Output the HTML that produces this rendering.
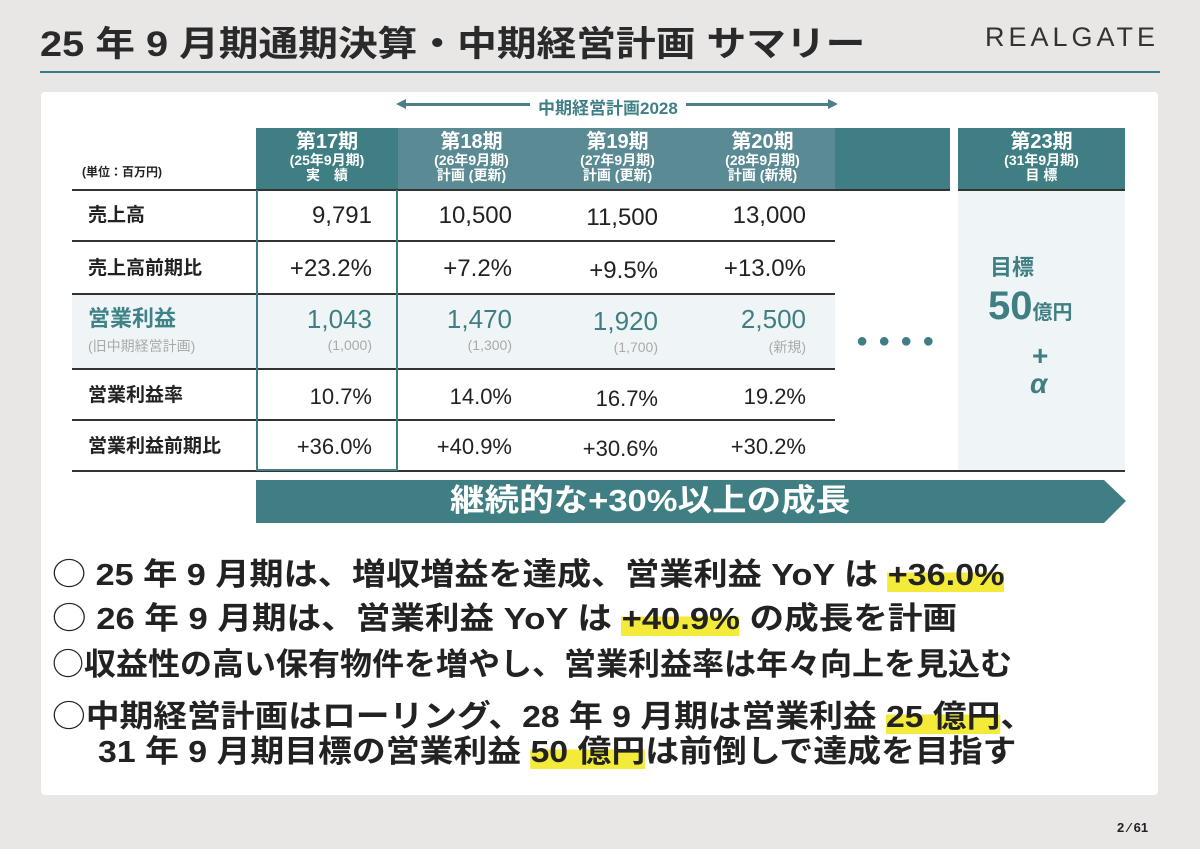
<!DOCTYPE html>
<html><head><meta charset="utf-8">
<style>
*{margin:0;padding:0;box-sizing:border-box}
body{width:1200px;height:849px;background:#e9e6e6;position:relative;overflow:hidden;font-family:"Liberation Sans","Noto Sans CJK JP",sans-serif;color:#222}
.abs{position:absolute}
.fit{position:absolute;white-space:nowrap;transform-origin:left center;font-weight:bold}
.hd{position:absolute;top:128px;height:62px;color:#fff;text-align:center;font-weight:bold}
.hd .a{font-size:20px;line-height:22px;margin-top:3px}
.hd .b{font-size:14px;line-height:15px}
.hl{position:absolute;left:72px;width:763px;height:2px;background:#333}
.lab{position:absolute;left:88px;font-size:19px;font-weight:bold;line-height:24px}
.v{position:absolute;font-size:24px;line-height:26px;text-align:right;width:130px}
.g{color:#3f7f83}
.s{position:absolute;font-size:14px;color:#aaa;text-align:right;width:130px}
.bl{position:absolute;font-size:31px;line-height:36px}
.c{font-family:"Noto Sans CJK JP",sans-serif;font-weight:normal}
.y{background:linear-gradient(transparent 45%,#f3ea3a 45%)}
</style></head><body>
<div class="fit" data-w="825" style="left:40px;top:16px;font-size:35px;color:#2a2a2a">25 年 9 月期通期決算・中期経営計画 サマリー</div>
<div class="abs" style="left:985px;top:22px;font-size:27px;letter-spacing:4px;color:#333">REALGATE</div>
<div class="abs" style="left:40px;top:71px;width:1120px;height:2px;background:#3d7b80"></div>
<div class="abs" style="left:41px;top:92px;width:1117px;height:703px;background:#fff;border-radius:4px"></div>

<div class="abs" style="left:400px;top:103px;width:432px;height:3px;background:#4c7f88"></div>
<div class="abs" style="left:396px;top:99px;border-right:10px solid #4c7f88;border-top:5px solid transparent;border-bottom:5px solid transparent"></div>
<div class="abs" style="left:828px;top:99px;border-left:10px solid #4c7f88;border-top:5px solid transparent;border-bottom:5px solid transparent"></div>
<div class="abs" style="left:530px;top:94px;padding:0 8px;background:#fff;color:#3f7f86;font-size:17px;font-weight:bold">中期経営計画2028</div>

<div class="abs" style="left:82px;top:163px;font-size:12px;font-weight:bold">(単位：百万円)</div>
<div class="abs" style="left:958px;top:190px;width:167px;height:281px;background:#eff5f6"></div>
<div class="abs" style="left:72px;top:295px;width:763px;height:74px;background:#eff5f6"></div>

<div class="hd" style="left:256px;width:142px;background:#3f7f83"><div class="a">第17期</div><div class="b">(25年9月期)</div><div class="b">実　績</div></div>
<div class="hd" style="left:398px;width:147px;background:#5a8a93"><div class="a">第18期</div><div class="b">(26年9月期)</div><div class="b">計画 (更新)</div></div>
<div class="hd" style="left:545px;width:145px;background:#5a8a93"><div class="a">第19期</div><div class="b">(27年9月期)</div><div class="b">計画 (更新)</div></div>
<div class="hd" style="left:690px;width:145px;background:#5a8a93"><div class="a">第20期</div><div class="b">(28年9月期)</div><div class="b">計画 (新規)</div></div>
<div class="hd" style="left:835px;width:115px;background:#3f7f83"></div>
<div class="hd" style="left:958px;width:167px;background:#3f7f83"><div class="a">第23期</div><div class="b">(31年9月期)</div><div class="b">目 標</div></div>
<div class="abs" style="left:72px;top:189px;width:878px;height:2px;background:#333"></div>
<div class="abs" style="left:958px;top:189px;width:167px;height:2px;background:#333"></div>

<div class="hl" style="top:240px"></div>
<div class="hl" style="top:293px"></div>
<div class="hl" style="top:368px"></div>
<div class="hl" style="top:419px"></div>
<div class="abs" style="left:72px;top:470px;width:1053px;height:2px;background:#333"></div>
<div class="abs" style="left:256px;top:190px;width:142px;height:281px;border:2px solid #3f7f83;border-top:none"></div>

<div class="lab" style="top:204px">売上高</div>
<div class="lab" style="top:257px">売上高前期比</div>
<div class="lab g" style="top:307px;font-size:22px;color:#3f8288">営業利益</div>
<div class="abs" style="left:88px;top:336px;font-size:14px;color:#aaa">(旧中期経営計画)</div>
<div class="lab" style="top:384px">営業利益率</div>
<div class="lab" style="top:435px">営業利益前期比</div>

<div id="vals"></div>

<div class="abs" style="left:856px;top:331px;font-size:20px;color:#3f7f83;letter-spacing:10px;line-height:20px">●●●●</div>
<div class="abs" style="left:990px;top:250px;font-size:22px;font-weight:bold;color:#3f7f83">目標</div>
<div class="abs" style="left:988px;top:284px;font-size:40px;font-weight:bold;color:#3f7f83;line-height:44px">50<span style="font-size:20px">億円</span></div>
<div class="abs" style="left:1032px;top:340px;font-size:28px;font-weight:bold;color:#3f7f83">+</div>
<div class="abs" style="left:1030px;top:368px;font-size:28px;font-weight:bold;color:#3f7f83;font-style:italic">α</div>

<svg class="abs" style="left:256px;top:480px" width="872" height="44"><polygon points="0,0 848,0 870,21 848,43 0,43" fill="#3f7f83"/></svg>
<div class="fit" data-w="400" style="left:450px;top:481px;font-size:31px;color:#fff;line-height:40px">継続的な+30%以上の成長</div>

<div class="fit bl" data-w="952" style="left:52px;top:554px"><span class="c">○</span> 25 年 9 月期は、増収増益を達成、営業利益 YoY は <span class="y">+36.0%</span></div>
<div class="fit bl" data-w="905" style="left:52px;top:598px"><span class="c">○</span> 26 年 9 月期は、営業利益 YoY は <span class="y">+40.9%</span> の成長を計画</div>
<div class="fit bl" data-w="960" style="left:52px;top:644px"><span class="c">○</span>収益性の高い保有物件を増やし、営業利益率は年々向上を見込む</div>
<div class="fit bl" data-w="982" style="left:52px;top:696px"><span class="c">○</span>中期経営計画はローリング、28 年 9 月期は営業利益 <span class="y">25 億円</span>、</div>
<div class="fit bl" data-w="918" style="left:98px;top:734px">31 年 9 月期目標の営業利益 <span class="y">50 億円</span>は前倒しで達成を目指す</div>

<div class="abs" style="left:1117px;top:820px;font-size:13px;font-weight:bold">2 ⁄ 61</div>

<script>
const rights=[372,512,658,806];
const sales=["9,791","10,500","11,500","13,000"];
const salesYoy=["+23.2%","+7.2%","+9.5%","+13.0%"];
const opProfit=["1,043","1,470","1,920","2,500"];
const oldPlan=["(1,000)","(1,300)","(1,700)","(新規)"];
const opMargin=["10.7%","14.0%","16.7%","19.2%"];
const opYoy=["+36.0%","+40.9%","+30.6%","+30.2%"];
const host=document.getElementById('vals');
function add(arr,top,cls,name,extra){
  arr.forEach((t,i)=>{
    const d=document.createElement('div');
    d.className=cls;
    d.style.left=(rights[i]-130)+'px';
    d.style.top=(top+(i===2?2:0))+'px';
    if(extra)d.style.cssText+=extra;
    d.textContent=t;
    
    
    host.appendChild(d);
  });
}
add(sales,203,'v','sales-value');
add(salesYoy,256,'v','sales-yoy-value');
add(opProfit,306,'v g','op-profit-value','font-size:26px;');
add(oldPlan,337,'s','old-plan-value');
add(opMargin,384,'v','op-margin-value','font-size:22px;');
add(opYoy,434,'v','op-yoy-value','font-size:22px;');
document.querySelectorAll('.fit[data-w]').forEach(e=>{
  const w=e.scrollWidth, t=+e.dataset.w;
  e.style.transform='scaleX('+(t/w)+')';
});
</script>
</body></html>
